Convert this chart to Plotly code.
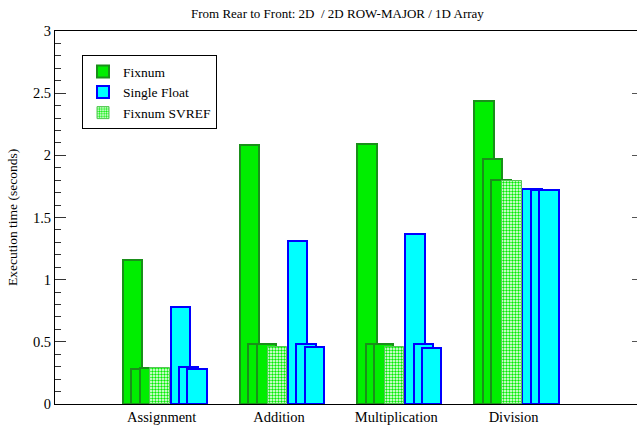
import plotly.graph_objects as go

# ---- data ----
categories = ["Assignment", "Addition", "Multiplication", "Division"]
layers = ["2D", "2D ROW-MAJOR", "1D Array"]

fixnum_2d = [1.16, 2.08, 2.09, 2.44]
fixnum_rowmajor = [0.28, 0.48, 0.48, 1.97]
fixnum_1d = [0.29, 0.48, 0.48, 1.80]
fixnum_svref_1d = [0.29, 0.46, 0.46, 1.79]

float_2d = [0.78, 1.31, 1.37, 1.73]
float_rowmajor = [0.30, 0.48, 0.48, 1.72]
float_1d = [0.28, 0.46, 0.45, 1.72]

y_ticks = [0, 0.5, 1, 1.5, 2, 2.5, 3]

# ---- styling ----
FONT = "'Liberation Serif', 'Times New Roman', 'DejaVu Serif', serif"
GREEN_FILL = "#00ee00"
GREEN_LINE = "#1a8f1a"
CYAN_FILL = "#00ffff"
BLUE_LINE = "#0000ff"

idx = list(range(len(categories)))
W = 0.165          # bar width (axis units)
STEP = 0.072       # shift between rear/middle/front layers
FIX0 = -0.251      # centre of rear Fixnum bar relative to category
FLT0 = 0.158       # centre of rear Single Float bar relative to category

fig = go.Figure()

def add_bar(vals, off, fill, line, lw, name, show, pattern=None):
    marker = dict(color=fill, line=dict(color=line, width=lw))
    if pattern:
        marker["pattern"] = pattern
    fig.add_trace(go.Bar(
        x=[i + off for i in idx], y=vals, width=W,
        marker=marker, name=name, showlegend=show,
        legendrank={"Fixnum": 1, "Single Float": 2, "Fixnum SVREF": 3}[name],
        hoverinfo="y",
    ))

# rear -> front
fix_series = [fixnum_2d, fixnum_rowmajor, fixnum_1d]
flt_series = [float_2d, float_rowmajor, float_1d]
for k in range(3):
    add_bar(fix_series[k], FIX0 + k * STEP, GREEN_FILL, GREEN_LINE, 2, "Fixnum", k == 0)
    add_bar(flt_series[k], FLT0 + k * STEP, CYAN_FILL, BLUE_LINE, 2, "Single Float", k == 0)

add_bar(fixnum_svref_1d, FIX0 + 3.3 * STEP, "white", "#55c455", 1, "Fixnum SVREF", True,
        pattern=dict(shape=".", fgcolor=GREEN_FILL, bgcolor="white", size=3, solidity=0.5,
                     fillmode="replace"))

# invisible trace so the right-hand tick axis is drawn
fig.add_trace(go.Scatter(x=[0], y=[0], yaxis="y2", mode="markers",
                         marker=dict(opacity=0), showlegend=False, hoverinfo="skip"))

fig.update_layout(
    width=637, height=431,
    margin=dict(l=55, r=0, t=31, b=27),
    paper_bgcolor="white", plot_bgcolor="white",
    barmode="overlay", bargap=0,
    font=dict(family=FONT, size=14, color="black"),
    showlegend=True,
    legend=dict(
        x=0.0464, y=0.935, xanchor="left", yanchor="top",
        bordercolor="black", borderwidth=1, bgcolor="white",
        font=dict(family=FONT, size=13.5), tracegroupgap=0,
        traceorder="normal",
    ),
    xaxis=dict(
        range=[-0.91, 4.052], tickvals=idx, ticktext=categories,
        showgrid=False, zeroline=False, ticks="",
        showline=True, mirror=True, linecolor="black", linewidth=1,
        tickfont=dict(family=FONT, size=14.5),
    ),
    yaxis=dict(
        range=[0, 3], tickvals=y_ticks, ticktext=[f"{v:g}" for v in y_ticks],
        showgrid=False, zeroline=False,
        ticks="inside", ticklen=11, tickcolor="#333", tickwidth=1,
        minor=dict(dtick=0.1, ticks="inside", ticklen=6, tickcolor="#333", showgrid=False),
        showline=True, linecolor="black", linewidth=1, mirror=False,
        tickfont=dict(family=FONT, size=14.5),
    ),
    yaxis2=dict(
        range=[0, 3], overlaying="y", side="right", tickvals=y_ticks,
        showticklabels=False, ticks="inside", ticklen=5, tickcolor="#555",
        showgrid=False, zeroline=False, showline=False,
    ),
    annotations=[
        dict(text="From Rear to Front: 2D  / 2D ROW-MAJOR / 1D Array",
             xref="paper", yref="paper", x=0.486, y=1.048,
             xanchor="center", yanchor="middle", showarrow=False,
             font=dict(family=FONT, size=13)),
        dict(text="Execution time (seconds)", textangle=-90,
             xref="paper", yref="paper", x=-0.073, y=0.5,
             xanchor="center", yanchor="middle", showarrow=False,
             font=dict(family=FONT, size=13.5)),
    ],
)

fig.write_html("out.html")
